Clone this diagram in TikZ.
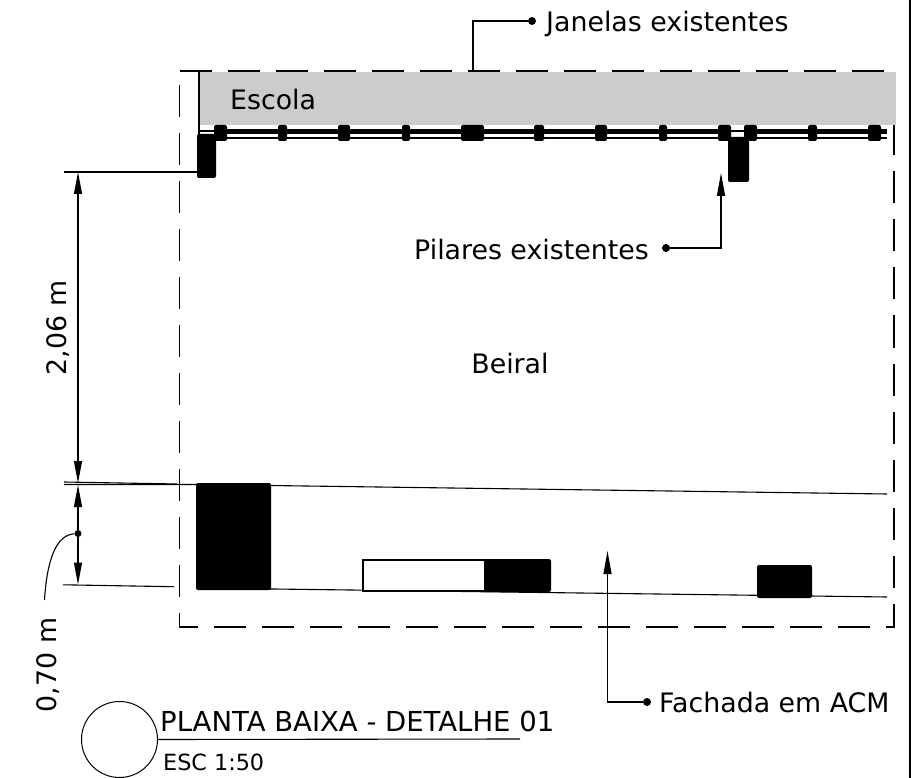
\documentclass[tikz,border=0pt]{standalone}
\usepackage{fontspec}
\setmainfont{DejaVu Sans}
\usetikzlibrary{arrows.meta}
\definecolor{roofgray}{RGB}{204,204,204}
\tikzset{
  dashline/.style={draw=black,line width=1.2pt,dash pattern=on 32pt off 16pt},
  thinline/.style={draw=black,line width=1.1pt},
  lead/.style={draw=black,line width=1.1pt},
  pil/.style={fill=black,rounded corners=2pt,draw=none},
  lab/.style={font=\fontsize{26.8}{30}\selectfont,inner sep=0pt,text=black},
  dimtip/.style={-{Triangle[length=22pt,width=8pt]}},
  tip/.style={-{Triangle[length=23pt,width=8pt]}},
  dot/.style={circle,fill=black,inner sep=0pt,minimum size=8pt},
}
\begin{document}
\begin{tikzpicture}[x=1pt,y=-1pt]
\useasboundingbox (0,0) rectangle (919,778);
\fill[white] (0,0) rectangle (919,778);
% outline
\draw[dashline] (179.5,85) -- (179.5,627) -- (894,627) -- (894,120);
% school
\fill[roofgray] (198,72) rectangle (896,125);
\draw[dashline] (180,71) -- (896,71);
\draw[line width=2pt] (198.5,70) -- (198.5,178);
\draw[line width=2.5pt] (910,0) -- (910,778);
% window lines
\draw[line width=4.5pt] (214,131.5) -- (731,131.5);
\draw[line width=4.5pt] (744,131.5) -- (887,131.5);
\draw[line width=1.1pt] (200,131) -- (214,131);
\draw[line width=1.1pt] (731,131) -- (744,131);
\draw[line width=1.1pt] (214,138) -- (887,138);
% window mullions
\foreach \a/\b in {214/227,278/287,338/350,402/410,461/484,534/544,595/607,659/667,718/731,744/757,808/817,868/881}{
  \fill[pil] (\a,125) rectangle (\b,141);
}
% columns
\node[pil,minimum width=19pt,minimum height=44pt,inner sep=0pt] (colA) at (206.5,156) {};
\node[pil,minimum width=21pt,minimum height=45pt,inner sep=0pt] (colB) at (738.5,159.5) {};
% beiral lines
\coordinate (topL) at (64,484.5);
\coordinate (topLb) at (64,482);
\coordinate (topLc) at (177,484);
\coordinate (topR) at (887,494);
\draw[thinline] (topLb) -- (topLc);
\draw[thinline] (topL) -- (197,484.5) -- (topR);
\coordinate (botL) at (63,584.8);
\draw[thinline] (botL) -- (174,586.7);
\draw[thinline] (197,588) -- (887,597);
% blocks
\node[pil,minimum width=75pt,minimum height=107pt,inner sep=0pt] (blockA) at (233.5,536.5) {};
\node[draw=black,fill=white,line width=1.1pt,minimum width=122pt,minimum height=31pt,inner sep=0pt] (openbox) at (424,575.5) {};
\node[pil,minimum width=67pt,minimum height=33pt,inner sep=0pt] (blockB) at (517.5,575.5) {};
\node[pil,minimum width=55pt,minimum height=33pt,inner sep=0pt] (blockC) at (784.5,581.5) {};
% dimensions
\coordinate (dimTop) at (78,172);
\coordinate (dimMid) at (78,483);
\coordinate (dimMidB) at (78,485);
\coordinate (dimBot) at (78,584.5);
\coordinate (extA) at (64,172);
\draw[thinline] (extA) -- (colA.west|-dimTop);
\draw[thinline,dimtip] (78,330) -- (dimTop);
\draw[thinline,dimtip] (78,330) -- (dimMid);
\node[dot,minimum size=7pt] (d1) at (78,533.5) {};
\draw[thinline,dimtip] (d1) -- (dimMidB);
\draw[thinline,dimtip] (d1) -- (dimBot);
\node[lab,rotate=90,anchor=base] (d206) at (66,328) {2,06 m};
\node[lab,rotate=90,anchor=base] (d070) at (56,665) {0,70 m};
\draw[thinline] (d1) .. controls (56,535) and (47,560) .. (44.5,600);
% labels
\node[lab,anchor=base west] (jan) at (546,32) {Janelas existentes};
\node[dot] (d2) at (532,21) {};
\coordinate (j1) at (473,71);
\draw[lead] (j1) -- (473,21) -- (d2);
\node[lab,anchor=base west] (esc) at (230,110) {Escola};
\node[lab,anchor=base west] (pil) at (414,260) {Pilares existentes};
\node[dot] (d3) at (666,248) {};
\coordinate (p1) at (721,173);
\draw[lead,tip] (d3) -| (p1);
\node[lab,anchor=base] (bei) at (510,373) {Beiral};
\node[lab,anchor=base west] (fac) at (659,712) {Fachada em ACM};
\node[dot] (d4) at (647,702) {};
\coordinate (f1) at (607.5,551);
\draw[lead,tip] (d4) -| (f1);
% title
\node[circle,draw=black,line width=1pt,minimum size=76pt,inner sep=0pt] (circ) at (119.5,739.5) {};
\coordinate (tl) at (520,739);
\draw[thinline] (circ.east) -- (tl);
\node[lab,anchor=base west,font=\fontsize{27.5}{30}\selectfont] (tit) at (160,731) {PLANTA BAIXA - DETALHE 01};
\node[anchor=base west,inner sep=0pt,font=\fontsize{22.3}{26}\selectfont] (esc2) at (163,770) {ESC 1:50};
\end{tikzpicture}
\end{document}
